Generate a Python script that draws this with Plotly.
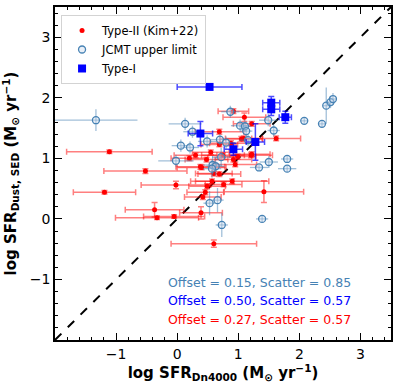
import plotly.graph_objects as go

# Type-II (Kim+22)
t2_x = [-1.11, -0.52, -0.02, -1.19, -0.37, -0.33, -0.05, 0.39, 0.60, 1.42,
        0.46, 0.49, 0.57, 0.90, 0.76, 0.42, 0.69, 0.92, 0.99, 1.21,
        0.38, 0.48, 1.10, 1.22, 0.69, 0.92, 1.62, 1.22, 0.95, 1.09,
        0.88, 0.69, 1.05, 0.40, 0.30, 0.55, 0.20, 0.75, 0.60]
t2_y = [1.11, 0.79, 0.56, 0.44, 0.15, 0.02, 0.04, 0.10, -0.41, 0.45,
        0.44, 0.54, 0.62, 0.62, 0.57, 0.36, 0.74, 0.98, 1.03, 1.05,
        0.86, 0.98, 1.68, 1.57, 1.44, 1.78, 1.33, 1.07, 0.90, 1.33,
        1.25, 1.23, 1.32, 0.85, 1.05, 1.10, 1.00, 1.05, 0.75]
t2_xerr = [0.70, 0.68, 0.57, 0.51, 0.48, 0.68, 0.50, 0.35, 0.70, 0.65,
           0.30, 0.30, 0.35, 0.60, 0.30, 0.30, 0.35, 0.30, 0.30, 0.35,
           0.40, 0.35, 0.35, 0.30, 0.40, 0.25, 0.40, 0.30, 0.35, 0.30,
           0.35, 0.30, 0.35, 0.40, 0.35, 0.30, 0.30, 0.35, 0.30]
t2_yerr = [0.03, 0.04, 0.06, 0.03, 0.12, 0.03, 0.03, 0.10, 0.06, 0.18,
           0.04, 0.04, 0.04, 0.04, 0.04, 0.04, 0.04, 0.04, 0.04, 0.04,
           0.04, 0.04, 0.07, 0.04, 0.04, 0.04, 0.04, 0.04, 0.04, 0.04,
           0.04, 0.04, 0.04, 0.04, 0.04, 0.04, 0.04, 0.04, 0.04]

# JCMT upper limit
jc_x = [-1.33, 0.13, 0.25, 0.49, 0.06, 0.21, -0.02, 0.72, 0.58, 0.63,
        0.57, 0.87, 0.70, 0.80, 0.53, 0.66, 0.73, 1.50, 1.80, 1.80,
        1.34, 1.39, 2.44, 2.51, 2.55, 2.37, 2.08, 1.49, 1.58, 1.03,
        1.11, 1.13, 1.16]
jc_y = [1.63, 1.57, 1.44, 1.28, 1.21, 1.18, 0.96, 1.02, 0.89, 0.87,
        0.83, 1.77, 1.31, 1.26, 0.26, 0.31, -0.10, 0.94, 0.99, 0.83,
        0.85, 0.00, 1.87, 1.93, 1.98, 1.57, 1.62, 1.63, 1.46, 1.54,
        1.53, 1.45, 1.30]
jc_xerr = [0.68, 0.27, 0.15, 0.15, 0.15, 0.15, 0.29, 0.15, 0.15, 0.15,
           0.15, 0.15, 0.15, 0.15, 0.10, 0.10, 0.10, 0.15, 0.10, 0.15,
           0.15, 0.10, 0.05, 0.05, 0.05, 0.05, 0.05, 0.15, 0.10, 0.15,
           0.10, 0.10, 0.15]
jc_yerr = [0.18, 0.10, 0.10, 0.10, 0.10, 0.10, 0.10, 0.15, 0.15, 0.15,
           0.15, 0.10, 0.10, 0.10, 0.20, 0.20, 0.20, 0.10, 0.05, 0.05,
           0.05, 0.05, 0.30, 0.10, 0.10, 0.05, 0.05, 0.10, 0.10, 0.10,
           0.10, 0.10, 0.10]

# Type-I
t1_x = [0.53, 0.38, 1.54, 1.54, 1.77, 1.28, 0.92]
t1_y = [2.18, 1.41, 1.92, 1.81, 1.68, 1.27, 1.15]
t1_xerr = [0.53, 0.20, 0.14, 0.14, 0.10, 0.15, 0.15]
t1_yerr = [0.03, 0.20, 0.10, 0.10, 0.10, 0.30, 0.10]

offset_lines = ["Offset = 0.15, Scatter = 0.85",
                "Offset = 0.50, Scatter = 0.57",
                "Offset = 0.27, Scatter = 0.57"]
offset_colors = ["steelblue", "blue", "red"]

fig = go.Figure()

fig.add_trace(go.Scatter(
    x=[-2, 3.5], y=[-2, 3.5], mode="lines",
    line=dict(color="black", dash="dash", width=2),
    showlegend=False, hoverinfo="skip"))

fig.add_trace(go.Scatter(
    x=t2_x, y=t2_y, mode="markers", name="Type-II (Kim+22)",
    marker=dict(color="red", size=5, symbol="circle"),
    error_x=dict(type="data", array=t2_xerr, color="rgba(255,0,0,0.5)", thickness=1.5, width=3),
    error_y=dict(type="data", array=t2_yerr, color="rgba(255,0,0,0.5)", thickness=1.5, width=3)))

fig.add_trace(go.Scatter(
    x=jc_x, y=jc_y, mode="markers", name="JCMT upper limit",
    marker=dict(color="rgba(200,215,235,0.4)", size=7, symbol="circle",
                line=dict(color="steelblue", width=1.3)),
    error_x=dict(type="data", array=jc_xerr, color="rgba(70,130,180,0.5)", thickness=1.3, width=0),
    error_y=dict(type="data", array=jc_yerr, color="rgba(70,130,180,0.5)", thickness=1.3, width=0)))

fig.add_trace(go.Scatter(
    x=t1_x, y=t1_y, mode="markers", name="Type-I",
    marker=dict(color="blue", size=8, symbol="square"),
    error_x=dict(type="data", array=t1_xerr, color="rgba(0,0,255,0.7)", thickness=1.5, width=3),
    error_y=dict(type="data", array=t1_yerr, color="rgba(0,0,255,0.7)", thickness=1.5, width=3)))

for i, (txt, col) in enumerate(zip(offset_lines, offset_colors)):
    fig.add_annotation(x=0.887, y=0.173 - i * 0.055, xref="paper", yref="paper",
                       text=txt, showarrow=False, xanchor="right", yanchor="middle",
                       font=dict(size=12.5, color=col))

axis_style = dict(range=[-2, 3.5], showgrid=False, zeroline=False,
                  showline=True, linecolor="black", linewidth=1.5, mirror="ticks",
                  ticks="inside", ticklen=7, tickwidth=1.3, tickcolor="black",
                  tickvals=[-1, 0, 1, 2, 3], tickfont=dict(size=14, color="black"),
                  minor=dict(dtick=0.2, tick0=0, ticks="inside", ticklen=3.5,
                             tickwidth=1, tickcolor="black"))

fig.update_xaxes(**axis_style,
                 title=dict(text="<b>log SFR<sub>Dn4000</sub> (M<sub>⊙</sub> yr<sup>−1</sup>)</b>",
                            font=dict(size=15, color="black"), standoff=4))
fig.update_yaxes(**axis_style,
                 title=dict(text="<b>log SFR<sub>Dust, SED</sub> (M<sub>⊙</sub> yr<sup>−1</sup>)</b>",
                            font=dict(size=15, color="black"), standoff=10))

fig.update_layout(
    width=399, height=389,
    margin=dict(l=55, r=8, t=5, b=49),
    paper_bgcolor="white", plot_bgcolor="white",
    font=dict(family="DejaVu Sans", color="black"),
    legend=dict(x=0.018, y=0.976, xanchor="left", yanchor="top",
                bgcolor="rgba(255,255,255,0.8)", bordercolor="lightgray", borderwidth=1,
                font=dict(size=11.5), tracegroupgap=0, itemwidth=30))

# page body has a default 8px margin; drop it so the figure sits at the corner
fig.write_html("out.html", config={"displayModeBar": False},
               post_script="document.body.style.margin='0';")
